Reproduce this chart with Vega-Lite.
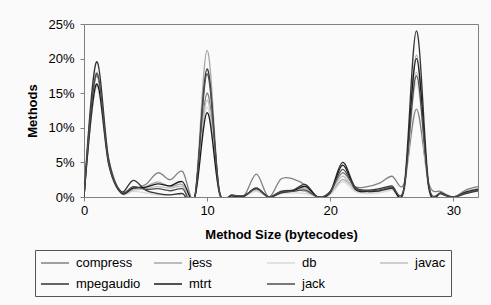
{
  "$schema": "https://vega.github.io/schema/vega-lite/v6.json",
  "autosize": {"type": "none"},
  "width": 394,
  "height": 173,
  "padding": {"left": 84, "top": 24, "right": 13, "bottom": 108},
  "background": "#fafafa",
  "config": {
    "view": {"stroke": "#808080", "strokeWidth": 1, "fill": "#fafafa"},
    "font": "Liberation Sans",
    "axis": {
      "grid": false,
      "domainColor": "#808080",
      "tickColor": "#808080",
      "tickSize": 4,
      "labelFont": "Liberation Sans",
      "labelFontSize": 13,
      "labelColor": "#000000",
      "titleFont": "Liberation Sans",
      "titleFontSize": 13,
      "titleFontWeight": "bold",
      "titleColor": "#000000"
    }
  },
  "data": {
    "values": [
      {"s":"compress","x":0,"y":0},{"s":"compress","x":1,"y":17.5},{"s":"compress","x":2,"y":5},{"s":"compress","x":3,"y":0.8},{"s":"compress","x":4,"y":1.2},{"s":"compress","x":5,"y":1.8},{"s":"compress","x":6,"y":3.5},{"s":"compress","x":7,"y":2.5},{"s":"compress","x":8,"y":3.7},{"s":"compress","x":9,"y":0},{"s":"compress","x":10,"y":15},{"s":"compress","x":11,"y":0.8},{"s":"compress","x":12,"y":0.3},{"s":"compress","x":13,"y":0.2},{"s":"compress","x":14,"y":3.3},{"s":"compress","x":15,"y":0},{"s":"compress","x":16,"y":2.6},{"s":"compress","x":17,"y":2.6},{"s":"compress","x":18,"y":1.7},{"s":"compress","x":19,"y":0},{"s":"compress","x":20,"y":0.8},{"s":"compress","x":21,"y":3.5},{"s":"compress","x":22,"y":1.5},{"s":"compress","x":23,"y":1.5},{"s":"compress","x":24,"y":2},{"s":"compress","x":25,"y":3},{"s":"compress","x":26,"y":2},{"s":"compress","x":27,"y":12.7},{"s":"compress","x":28,"y":2},{"s":"compress","x":29,"y":0.8},{"s":"compress","x":30,"y":0},{"s":"compress","x":31,"y":1},{"s":"compress","x":32,"y":1.5},
      {"s":"jess","x":0,"y":0},{"s":"jess","x":1,"y":16},{"s":"jess","x":2,"y":5.5},{"s":"jess","x":3,"y":0.7},{"s":"jess","x":4,"y":1.2},{"s":"jess","x":5,"y":1.5},{"s":"jess","x":6,"y":2.2},{"s":"jess","x":7,"y":1.5},{"s":"jess","x":8,"y":1.8},{"s":"jess","x":9,"y":0},{"s":"jess","x":10,"y":21.2},{"s":"jess","x":11,"y":0.5},{"s":"jess","x":12,"y":0.2},{"s":"jess","x":13,"y":0.2},{"s":"jess","x":14,"y":1.2},{"s":"jess","x":15,"y":0},{"s":"jess","x":16,"y":0.8},{"s":"jess","x":17,"y":1},{"s":"jess","x":18,"y":0.8},{"s":"jess","x":19,"y":0},{"s":"jess","x":20,"y":0.5},{"s":"jess","x":21,"y":2.5},{"s":"jess","x":22,"y":1.2},{"s":"jess","x":23,"y":0.8},{"s":"jess","x":24,"y":1},{"s":"jess","x":25,"y":1.5},{"s":"jess","x":26,"y":1.2},{"s":"jess","x":27,"y":20.5},{"s":"jess","x":28,"y":1.5},{"s":"jess","x":29,"y":0.5},{"s":"jess","x":30,"y":0},{"s":"jess","x":31,"y":0.8},{"s":"jess","x":32,"y":1.2},
      {"s":"db","x":0,"y":0},{"s":"db","x":1,"y":15.8},{"s":"db","x":2,"y":4.5},{"s":"db","x":3,"y":0.5},{"s":"db","x":4,"y":0.8},{"s":"db","x":5,"y":0.6},{"s":"db","x":6,"y":0.3},{"s":"db","x":7,"y":0.3},{"s":"db","x":8,"y":0.5},{"s":"db","x":9,"y":0},{"s":"db","x":10,"y":13},{"s":"db","x":11,"y":0.3},{"s":"db","x":12,"y":0.2},{"s":"db","x":13,"y":0.1},{"s":"db","x":14,"y":0.8},{"s":"db","x":15,"y":0},{"s":"db","x":16,"y":0.5},{"s":"db","x":17,"y":0.6},{"s":"db","x":18,"y":0.5},{"s":"db","x":19,"y":0},{"s":"db","x":20,"y":0.3},{"s":"db","x":21,"y":2.2},{"s":"db","x":22,"y":0.8},{"s":"db","x":23,"y":0.5},{"s":"db","x":24,"y":0.6},{"s":"db","x":25,"y":1},{"s":"db","x":26,"y":0.8},{"s":"db","x":27,"y":16.5},{"s":"db","x":28,"y":1},{"s":"db","x":29,"y":0.4},{"s":"db","x":30,"y":0},{"s":"db","x":31,"y":0.5},{"s":"db","x":32,"y":0.8},
      {"s":"javac","x":0,"y":0},{"s":"javac","x":1,"y":18},{"s":"javac","x":2,"y":5.2},{"s":"javac","x":3,"y":0.6},{"s":"javac","x":4,"y":1},{"s":"javac","x":5,"y":1.2},{"s":"javac","x":6,"y":1.5},{"s":"javac","x":7,"y":1.3},{"s":"javac","x":8,"y":1.5},{"s":"javac","x":9,"y":0},{"s":"javac","x":10,"y":14},{"s":"javac","x":11,"y":0.6},{"s":"javac","x":12,"y":0.3},{"s":"javac","x":13,"y":0.2},{"s":"javac","x":14,"y":1},{"s":"javac","x":15,"y":0},{"s":"javac","x":16,"y":0.7},{"s":"javac","x":17,"y":0.9},{"s":"javac","x":18,"y":1.2},{"s":"javac","x":19,"y":0},{"s":"javac","x":20,"y":0.6},{"s":"javac","x":21,"y":3},{"s":"javac","x":22,"y":1},{"s":"javac","x":23,"y":0.7},{"s":"javac","x":24,"y":0.8},{"s":"javac","x":25,"y":1.2},{"s":"javac","x":26,"y":1},{"s":"javac","x":27,"y":18},{"s":"javac","x":28,"y":1.2},{"s":"javac","x":29,"y":0.5},{"s":"javac","x":30,"y":0},{"s":"javac","x":31,"y":0.6},{"s":"javac","x":32,"y":1},
      {"s":"mpegaudio","x":0,"y":0},{"s":"mpegaudio","x":1,"y":19.5},{"s":"mpegaudio","x":2,"y":5.5},{"s":"mpegaudio","x":3,"y":0.8},{"s":"mpegaudio","x":4,"y":2.4},{"s":"mpegaudio","x":5,"y":1},{"s":"mpegaudio","x":6,"y":0.5},{"s":"mpegaudio","x":7,"y":0.3},{"s":"mpegaudio","x":8,"y":0.5},{"s":"mpegaudio","x":9,"y":0},{"s":"mpegaudio","x":10,"y":18.5},{"s":"mpegaudio","x":11,"y":0.8},{"s":"mpegaudio","x":12,"y":0.2},{"s":"mpegaudio","x":13,"y":0.1},{"s":"mpegaudio","x":14,"y":1.3},{"s":"mpegaudio","x":15,"y":0},{"s":"mpegaudio","x":16,"y":0.8},{"s":"mpegaudio","x":17,"y":1},{"s":"mpegaudio","x":18,"y":1.8},{"s":"mpegaudio","x":19,"y":0},{"s":"mpegaudio","x":20,"y":0.8},{"s":"mpegaudio","x":21,"y":5},{"s":"mpegaudio","x":22,"y":1.5},{"s":"mpegaudio","x":23,"y":1},{"s":"mpegaudio","x":24,"y":1.2},{"s":"mpegaudio","x":25,"y":1.6},{"s":"mpegaudio","x":26,"y":1.5},{"s":"mpegaudio","x":27,"y":24},{"s":"mpegaudio","x":28,"y":1.8},{"s":"mpegaudio","x":29,"y":0.6},{"s":"mpegaudio","x":30,"y":0},{"s":"mpegaudio","x":31,"y":0.5},{"s":"mpegaudio","x":32,"y":0.9},
      {"s":"mtrt","x":0,"y":0},{"s":"mtrt","x":1,"y":16.3},{"s":"mtrt","x":2,"y":4.8},{"s":"mtrt","x":3,"y":0.6},{"s":"mtrt","x":4,"y":1.3},{"s":"mtrt","x":5,"y":1.4},{"s":"mtrt","x":6,"y":1.9},{"s":"mtrt","x":7,"y":1.6},{"s":"mtrt","x":8,"y":2.2},{"s":"mtrt","x":9,"y":0},{"s":"mtrt","x":10,"y":12.2},{"s":"mtrt","x":11,"y":0.6},{"s":"mtrt","x":12,"y":0.2},{"s":"mtrt","x":13,"y":0.2},{"s":"mtrt","x":14,"y":1.2},{"s":"mtrt","x":15,"y":0},{"s":"mtrt","x":16,"y":0.6},{"s":"mtrt","x":17,"y":0.9},{"s":"mtrt","x":18,"y":1.5},{"s":"mtrt","x":19,"y":0},{"s":"mtrt","x":20,"y":0.6},{"s":"mtrt","x":21,"y":4.6},{"s":"mtrt","x":22,"y":1.2},{"s":"mtrt","x":23,"y":0.8},{"s":"mtrt","x":24,"y":0.9},{"s":"mtrt","x":25,"y":1.3},{"s":"mtrt","x":26,"y":1.2},{"s":"mtrt","x":27,"y":20},{"s":"mtrt","x":28,"y":1.4},{"s":"mtrt","x":29,"y":0.5},{"s":"mtrt","x":30,"y":0},{"s":"mtrt","x":31,"y":0.7},{"s":"mtrt","x":32,"y":1.1},
      {"s":"jack","x":0,"y":0},{"s":"jack","x":1,"y":17.8},{"s":"jack","x":2,"y":5},{"s":"jack","x":3,"y":0.7},{"s":"jack","x":4,"y":1.5},{"s":"jack","x":5,"y":1.1},{"s":"jack","x":6,"y":1.2},{"s":"jack","x":7,"y":0.9},{"s":"jack","x":8,"y":1.2},{"s":"jack","x":9,"y":0},{"s":"jack","x":10,"y":17.8},{"s":"jack","x":11,"y":0.7},{"s":"jack","x":12,"y":0.3},{"s":"jack","x":13,"y":0.2},{"s":"jack","x":14,"y":1.2},{"s":"jack","x":15,"y":0},{"s":"jack","x":16,"y":0.7},{"s":"jack","x":17,"y":0.8},{"s":"jack","x":18,"y":1},{"s":"jack","x":19,"y":0},{"s":"jack","x":20,"y":0.7},{"s":"jack","x":21,"y":4},{"s":"jack","x":22,"y":1.3},{"s":"jack","x":23,"y":0.9},{"s":"jack","x":24,"y":1},{"s":"jack","x":25,"y":1.4},{"s":"jack","x":26,"y":1.3},{"s":"jack","x":27,"y":17.5},{"s":"jack","x":28,"y":1.6},{"s":"jack","x":29,"y":0.5},{"s":"jack","x":30,"y":0},{"s":"jack","x":31,"y":0.6},{"s":"jack","x":32,"y":1}
    ]
  },
  "mark": {"type": "line", "interpolate": "cardinal", "clip": true, "strokeWidth": 1.3},
  "encoding": {
    "x": {
      "field": "x", "type": "quantitative",
      "scale": {"domain": [0, 32], "nice": false, "zero": false},
      "axis": {"values": [0, 10, 20, 30], "title": "Method Size (bytecodes)", "labelPadding": 3, "titlePadding": 11, "labelFlush": false}
    },
    "y": {
      "field": "y", "type": "quantitative",
      "scale": {"domain": [0, 25], "nice": false},
      "axis": {"values": [0, 5, 10, 15, 20, 25], "labelExpr": "datum.value + '%'", "title": "Methods", "labelPadding": 6, "titlePadding": 8}
    },
    "color": {
      "field": "s", "type": "nominal",
      "scale": {
        "domain": ["compress", "jess", "db", "javac", "mpegaudio", "mtrt", "jack"],
        "range": ["#808080", "#a8a8a8", "#dadada", "#c0c0c0", "#333333", "#1a1a1a", "#4d4d4d"]
      },
      "legend": {
        "title": null,
        "orient": "none",
        "legendX": -49,
        "legendY": 226,
        "columns": 4,
        "direction": "horizontal",
        "gridAlign": "all",
        "symbolType": "M-1,0H3",
        "symbolSize": 196,
        "symbolStrokeWidth": 1.5,
        "labelFont": "Liberation Sans",
        "labelFontSize": 13,
        "labelColor": "#000000",
        "labelOffset": 20,
        "columnPadding": 10,
        "rowPadding": 6,
        "padding": 5,
        "strokeColor": "#555555",
        "fillColor": "#fafafa"
      }
    }
  }
}
